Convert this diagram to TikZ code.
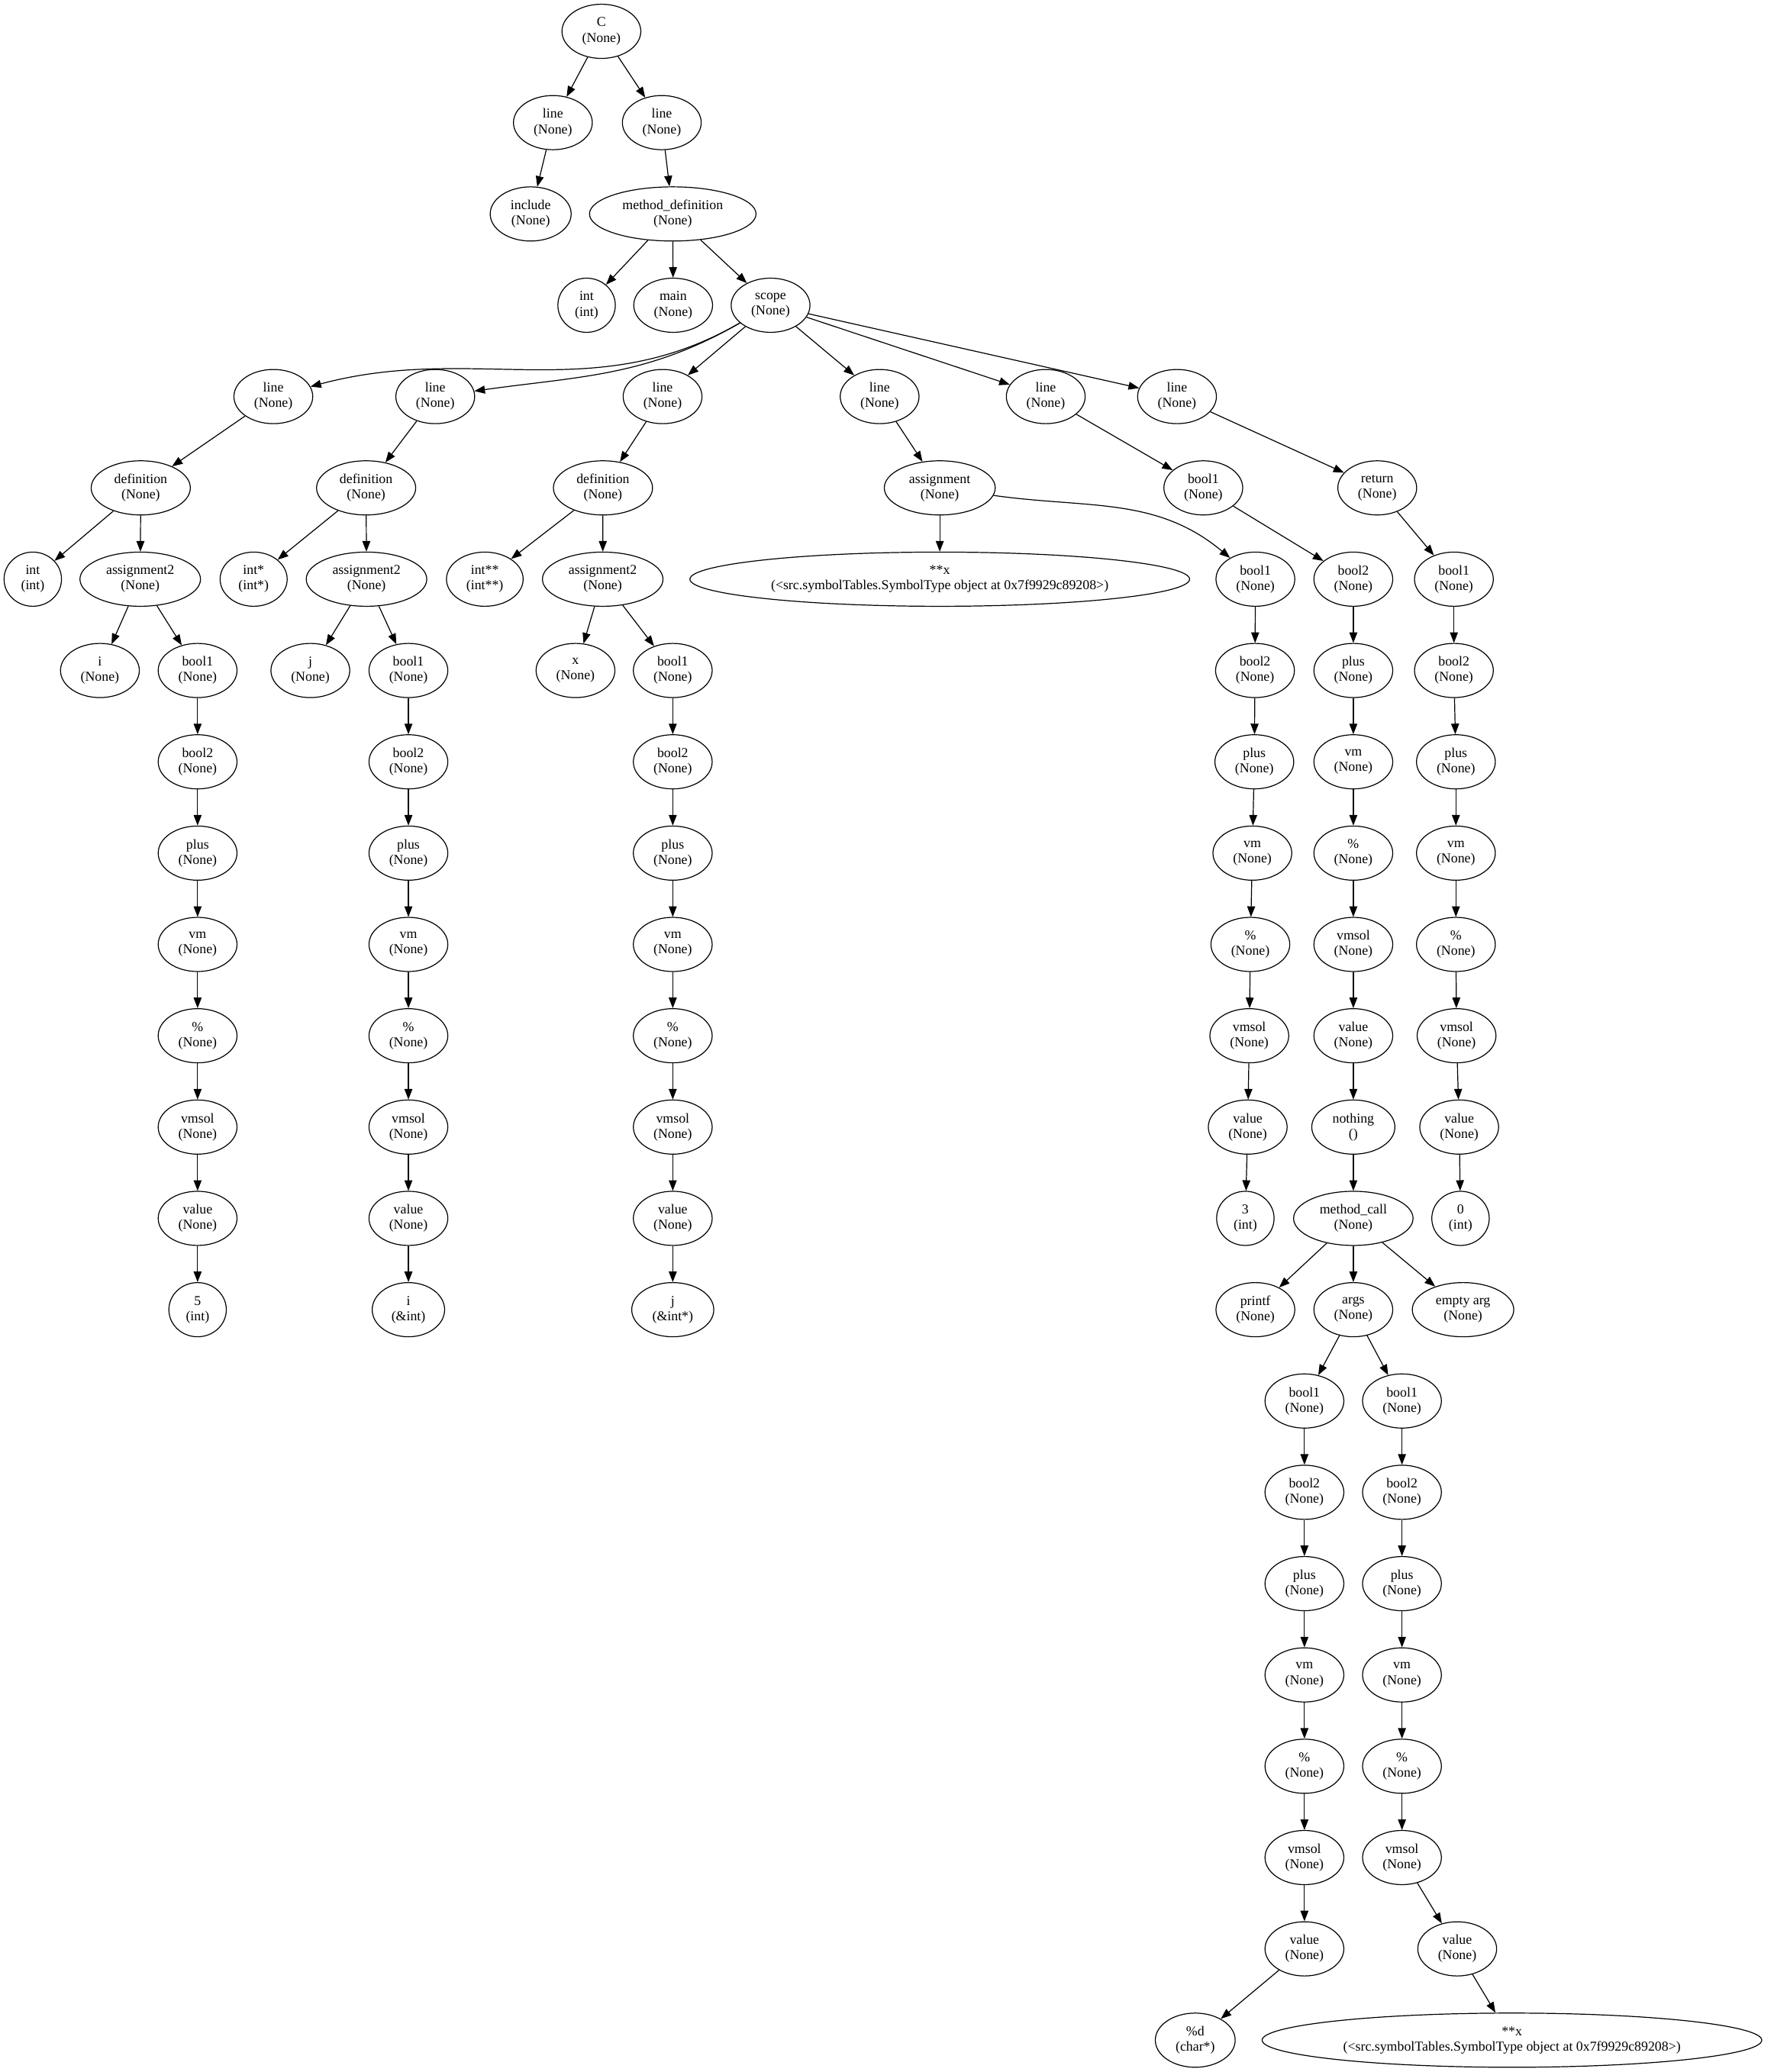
\documentclass[tikz,border=0pt]{standalone}
\usepackage{fontspec}
\setmainfont{Liberation Serif}
\usetikzlibrary{shapes.geometric,arrows.meta}
\tikzset{
  >={Triangle[length=8pt,width=6pt]},
  tn/.style={draw,ellipse,line width=0.7pt,align=center,inner xsep=6.5pt,inner ysep=2pt,minimum height=41pt,font=\fontsize{10.3}{11.6}\selectfont},
  conn/.style={->,line width=0.7pt}
}
\begin{document}
\begin{tikzpicture}[x=1pt,y=-1pt]
\useasboundingbox (0,0) rectangle (1342,1568);
% top of the tree
\node[tn] (C) at (455,23.7) {C\\(None)};
\node[tn] (l1) at (418.3,92.8) {line\\(None)};
\node[tn] (l2) at (500.7,92.8) {line\\(None)};
\node[tn] (inc) at (401.5,161.9) {include\\(None)};
\node[tn] (mdef) at (509,161.9) {method\_definition\\(None)};
\node[tn] (mtype) at (443.8,231) {int\\(int)};
\node[tn] (mname) at (509.3,231) {main\\(None)};
\node[tn] (scope) at (583,231) {scope\\(None)};
\foreach \n/\x in {la/206.8,lb/329.3,lc/501.3,ld/665.5,le/791.2,lf/890.5}
  \node[tn] (\n) at (\x,300.1) {line\\(None)};
\node[tn] (defa) at (106.5,369.2) {definition\\(None)};
\node[tn] (defb) at (277,369.2) {definition\\(None)};
\node[tn] (defc) at (456.2,369.2) {definition\\(None)};
\node[tn] (asg) at (711,369.2) {assignment\\(None)};
\node[tn] (e1) at (910.4,369.2) {bool1\\(None)};
\node[tn] (f0) at (1042,369.2) {return\\(None)};
\node[tn] (ta) at (24.8,438.3) {int\\(int)};
\node[tn] (tb) at (191.9,438.3) {int*\\(int*)};
\node[tn] (tc) at (366.8,438.3) {int**\\(int**)};
\node[tn] (asa) at (106.1,438.3) {assignment2\\(None)};
\node[tn] (asb) at (277.3,438.3) {assignment2\\(None)};
\node[tn] (asc) at (456,438.3) {assignment2\\(None)};
\node[tn,inner xsep=6pt] (xref) at (711,438.3) {**x\\(<src.symbolTables.SymbolType object at 0x7f9929c89208>)};
\node[tn] (ia) at (75.6,507.4) {i\\(None)};
\node[tn] (jb) at (234.8,507.4) {j\\(None)};
\node[tn] (xc) at (435.4,507.4) {x\\(None)};
% value chains
\foreach \c/\x/\y in {a/149.5/438.3,b/309/438.3,c/509/438.3,g/986.9/991.1}
  \foreach \lab [count=\k] in {bool1,bool2,plus,vm,\%,vmsol,value}
    \node[tn] (\c\k) at (\x,{\y+69.1*\k}) {\lab\\(None)};
\node[tn] (a8) at (149.5,991.1) {5\\(int)};
\node[tn] (b8) at (309,991.1) {i\\(\&int)};
\node[tn] (c8) at (509,991.1) {j\\(\&int*)};
\foreach \lab/\x [count=\k] in {bool1/949.8,bool2/949.5,plus/949,vm/947.5,\%/946,vmsol/945.2,value/944}
  \node[tn] (d\k) at (\x,{369.2+69.1*\k}) {\lab\\(None)};
\node[tn] (d8) at (942.2,922) {3\\(int)};
\foreach \lab [count=\k from 2] in {bool2,plus,vm,\%,vmsol,value}
  \node[tn] (e\k) at (1023.9,{369.2+69.1*(\k-1)}) {\lab\\(None)};
\node[tn] (e8) at (1023.9,852.9) {nothing\\()};
\node[tn] (e9) at (1023.9,922) {method\_call\\(None)};
\foreach \lab/\x [count=\k] in {bool1/1100,bool2/1100,plus/1101.5,vm/1101.5,\%/1101.5,vmsol/1102,value/1104}
  \node[tn] (f\k) at (\x,{369.2+69.1*\k}) {\lab\\(None)};
\node[tn] (f8) at (1105,922) {0\\(int)};
\node[tn] (pf) at (949.8,991.1) {printf\\(None)};
\node[tn] (args) at (1023.9,991.1) {args\\(None)};
\node[tn] (earg) at (1106.9,991.1) {empty arg\\(None)};
\foreach \lab [count=\k] in {bool1,bool2,plus,vm,\%,vmsol}
  \node[tn] (h\k) at (1060.7,{991.1+69.1*\k}) {\lab\\(None)};
\node[tn] (h7) at (1102.5,1474.8) {value\\(None)};
\node[tn] (g8) at (904.3,1543.9) {\%d\\(char*)};
\node[tn,inner xsep=6pt] (h8) at (1143.9,1543.9) {**x\\(<src.symbolTables.SymbolType object at 0x7f9929c89208>)};
% connectors
\foreach \s/\t in {C/l1,C/l2,l1/inc,l2/mdef,mdef/mtype,mdef/mname,mdef/scope,
  scope/lc,scope/ld,scope/le,scope/lf,la/defa,lb/defb,lc/defc,ld/asg,le/e1,lf/f0,
  defa/ta,defa/asa,defb/tb,defb/asb,defc/tc,defc/asc,asa/ia,asa/a1,asb/jb,asb/b1,
  asc/xc,asc/c1,asg/xref,e9/pf,e9/args,e9/earg,args/g1,args/h1}
  \draw[conn] (\s) -- (\t);
\draw[conn] (scope) to[out=210,in=15] (la);
\draw[conn] (scope) to[out=210,in=8] (lb);
\draw[conn] (asg) to[out=-8,in=140] (d1);
\foreach \c/\s/\m in {a/1/7,b/1/7,c/1/7,d/1/7,g/1/7,h/1/7,e/1/8,f/0/7}
  \foreach \k in {\s,...,\m} {
    \pgfmathtruncatemacro\n{\k+1}
    \draw[conn] (\c\k) -- (\c\n);
  }
\end{tikzpicture}
\end{document}
